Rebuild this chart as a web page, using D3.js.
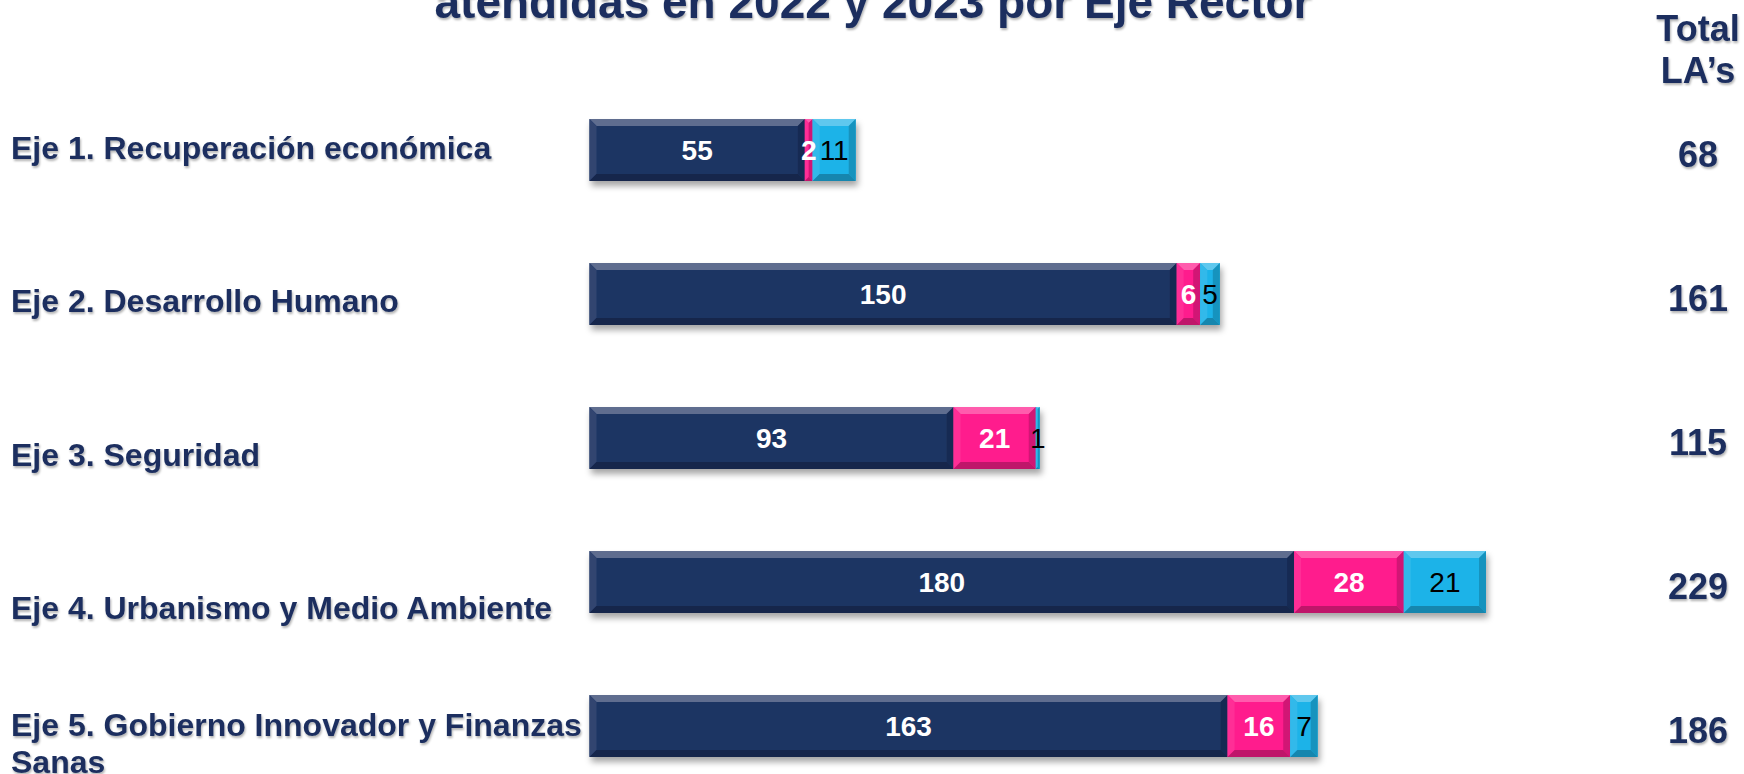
<!DOCTYPE html>
<html><head><meta charset="utf-8">
<script src="https://cdn.jsdelivr.net/npm/d3@7"></script>
<style>
html,body{margin:0;padding:0;background:#fff;}
svg{display:block;font-family:"Liberation Sans",Arial,Helvetica,sans-serif;}
</style></head>
<body><svg id="c" width="1744" height="774"></svg>
<script>
const categories = [
  ["Eje 1. Recuperación económica"],
  ["Eje 2. Desarrollo Humano"],
  ["Eje 3. Seguridad"],
  ["Eje 4. Urbanismo y Medio Ambiente"],
  ["Eje 5. Gobierno Innovador y Finanzas", "Sanas"]
];
const seriesDark = [55, 150, 93, 180, 163];
const seriesPink = [2, 6, 21, 28, 16];
const seriesCyan = [11, 5, 1, 21, 7];
const totals = [68, 161, 115, 229, 186];
const titleText = "atendidas en 2022 y 2023 por Eje Rector";
const totalHeader = ["Total", "LA’s"];

const navy = "#1c2f5e";
const segColors = ["#1f3464", "#ff1b8d", "#1fb3e8"];
const segText = [{fill:"#fff",weight:"bold"},{fill:"#fff",weight:"bold"},{fill:"#000",weight:"normal"}];

const svg = d3.select("#c");
const defs = svg.append("defs");
defs.append("filter").attr("id","bshadow").attr("x","-5%").attr("y","-20%").attr("width","115%").attr("height","160%")
  .append("feDropShadow").attr("dx",2).attr("dy",5).attr("stdDeviation",3).attr("flood-color","#000").attr("flood-opacity",0.35);
defs.append("filter").attr("id","tshadow").attr("x","-5%").attr("y","-20%").attr("width","110%").attr("height","160%")
  .append("feDropShadow").attr("dx",1).attr("dy",2).attr("stdDeviation",1.2).attr("flood-color","#000").attr("flood-opacity",0.3);

const idx = d3.range(categories.length);
const x = d3.scaleLinear().domain([0, d3.max(totals)]).range([589.5, 1486]);
const y = d3.scaleBand().domain(idx).range([78, 798]).paddingInner(0.57).paddingOuter(0.285);
const yLabel = d3.scalePoint().domain(idx).range([147, 761]);

// title
svg.append("text").attr("x", 873).attr("y", 18).attr("text-anchor","middle")
  .attr("font-size", 46).attr("font-weight","bold").attr("fill", navy).attr("filter","url(#tshadow)")
  .text(titleText);

// total header
svg.append("g").selectAll("text").data(totalHeader).join("text")
  .attr("x", 1698).attr("y", (d,i)=> 41 + i*42).attr("text-anchor","middle")
  .attr("font-size", 36).attr("font-weight","bold").attr("fill", navy).attr("filter","url(#tshadow)")
  .text(d=>d);

// category labels (multi-line stacked upward from anchor)
const lab = svg.append("g").selectAll("text").data(idx).join("text")
  .attr("font-size", 32).attr("font-weight","bold").attr("fill", navy).attr("filter","url(#tshadow)");
lab.each(function(i){
  const lines = categories[i];
  d3.select(this).selectAll("tspan").data(lines).join("tspan")
    .attr("x", 11)
    .attr("y", (d,k)=> yLabel(i) - (lines.length-1-k)*37)
    .attr("dy","0.36em")
    .text(d=>d);
});

// stacked bars
const stackSeries = [seriesDark, seriesPink, seriesCyan];
function mix(c, t, a){ const i = d3.interpolateRgb(c, t); return i(a); }
const bars = svg.append("g");
idx.forEach(i=>{
  const g = bars.append("g").attr("filter","url(#bshadow)");
  let acc = 0;
  const segs = stackSeries.map((s,k)=>{ const o={k, v:s[i], x0:acc, x1:acc+s[i]}; acc+=s[i]; return o; });
  segs.forEach(sg=>{
    const X = x(sg.x0), W = x(sg.x1)-x(sg.x0), Y = y(i), H = y.bandwidth();
    const col = segColors[sg.k];
    const b = Math.min(7, W/2);
    g.append("rect").attr("x",X).attr("y",Y).attr("width",W).attr("height",H).attr("fill",col);
    const P = (pts)=> pts.map(p=>p.join(",")).join(" ");
    g.append("polygon").attr("points",P([[X,Y],[X+W,Y],[X+W-b,Y+b],[X+b,Y+b]])).attr("fill",mix(col,"#fff",0.28));
    g.append("polygon").attr("points",P([[X,Y],[X+b,Y+b],[X+b,Y+H-b],[X,Y+H]])).attr("fill",mix(col,"#fff",0.08));
    g.append("polygon").attr("points",P([[X+W,Y],[X+W-b,Y+b],[X+W-b,Y+H-b],[X+W,Y+H]])).attr("fill",mix(col,"#000",0.18));
    g.append("polygon").attr("points",P([[X,Y+H],[X+b,Y+H-b],[X+W-b,Y+H-b],[X+W,Y+H]])).attr("fill",mix(col,"#000",0.25));
  });
  segs.forEach(sg=>{
    svg.append("text").attr("x",(x(sg.x0)+x(sg.x1))/2).attr("y",y(i)+y.bandwidth()/2).attr("dy","0.36em")
      .attr("text-anchor","middle").attr("font-size",28)
      .attr("font-weight",segText[sg.k].weight).attr("fill",segText[sg.k].fill).text(sg.v);
  });
});

// totals
svg.append("g").selectAll("text").data(idx).join("text")
  .attr("x",1698).attr("y",i=>y(i)+y.bandwidth()/2+4).attr("dy","0.36em").attr("text-anchor","middle")
  .attr("font-size",36).attr("font-weight","bold").attr("fill",navy).attr("filter","url(#tshadow)")
  .text(i=>totals[i]);
</script></body></html>
